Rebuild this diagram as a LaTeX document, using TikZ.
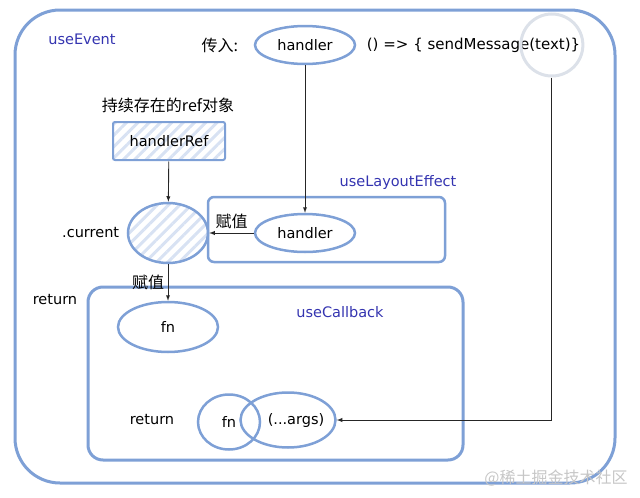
\documentclass[tikz,border=0pt]{standalone}
\usepackage{fontspec}
\setmainfont{DejaVu Sans}
\newfontfamily\cjk{Noto Sans CJK SC}
\usepackage{xcolor}
\usetikzlibrary{positioning,shapes.geometric,patterns.meta}
\definecolor{hookblue}{HTML}{7EA0D6}
\definecolor{labelblue}{HTML}{3434B0}
\definecolor{ringgray}{HTML}{DCE1E9}
\newcommand{\zh}[1]{{\cjk\fontsize{16}{19}\selectfont #1}}

\begin{document}
\begin{tikzpicture}[x=1pt ,y=-1pt ,-latex ,semithick ,font=\fontsize{14.5}{17}\selectfont ,blob/.style ={ ellipse , draw=hookblue , line width=2.5pt , minimum width=100pt , minimum height=38pt , inner sep=0pt} ,hatch/.style ={ pattern={Lines[angle=45,distance=8pt,line width=3pt]} , pattern color=hookblue!30} ,hookbox/.style ={ - , draw=hookblue , line width=2.5pt} ,hookname/.style ={ text=labelblue} ,link/.style ={ draw=black!85 , line width=0.9pt}]
\useasboundingbox (0,0) rectangle (640,498);
% useEvent
\draw[hookbox, line width=3pt, rounded corners=45pt] (15,10) rectangle (615,483);
\node[hookname] (eventname) at (82,39) {useEvent};
\node[blob] (handler) at (305,45) {handler};
\node[left=12pt of handler] (passin) {\zh{传入:}};
\node[right=7pt of handler, font=\fontsize{15}{18}\selectfont] (callback) {() => \{ sendMessage(text)\}};
\node[circle, draw=ringgray, line width=3pt, minimum size=62pt] (textring) at ([xshift=-32pt]callback.east) {};
\node (refnote) at (168,105) {\zh{持续存在的ref对象}};
\node[draw=hookblue, line width=2pt, hatch, rounded corners=2pt, minimum width=112pt, minimum height=38pt] (handlerRef) at (169,141) {handlerRef};
\node[blob, hatch, minimum width=80pt, minimum height=60pt] (cur) at (168,233) {};
\node[left=4pt of cur] (curname) {.current};
% useLayoutEffect
\draw[hookbox, rounded corners=6pt] (208,197) rectangle (445,262);
\node[hookname] (layoutname) at (398,182) {useLayoutEffect};
\node[blob] (inhandler) at (305,233) {handler};
% useCallback
\draw[hookbox, line width=3pt, rounded corners=15pt] (88,287) rectangle (463,460);
\node[hookname] (callbackname) at (340,312) {useCallback};
\node (ret1) at (55,300) {return};
\node[blob, minimum height=50pt] (fn) at (168,327) {fn};
\node (ret2) at (152,420) {return};
\node[blob, minimum width=62pt, minimum height=55pt] (fnb) at (229,422) {fn};
\node[blob, minimum width=95pt, minimum height=55pt] (args) at (288,420) {};
\node (argstext) at (296,421) {(...args)};
\node[text=gray!45] (mark) at (556,478) {\zh{@稀土掘金技术社区}};
% connectors
\draw[link] (handlerRef) -- (cur);
\draw[link] (handler) -- (inhandler);
\draw[link] (inhandler) -- node[above] {\zh{赋值}} (cur);
\draw[link] (cur) -- node[left] {\zh{赋值}} (fn);
\draw[link] (textring) |- (args);
\end{tikzpicture}
\end{document}
